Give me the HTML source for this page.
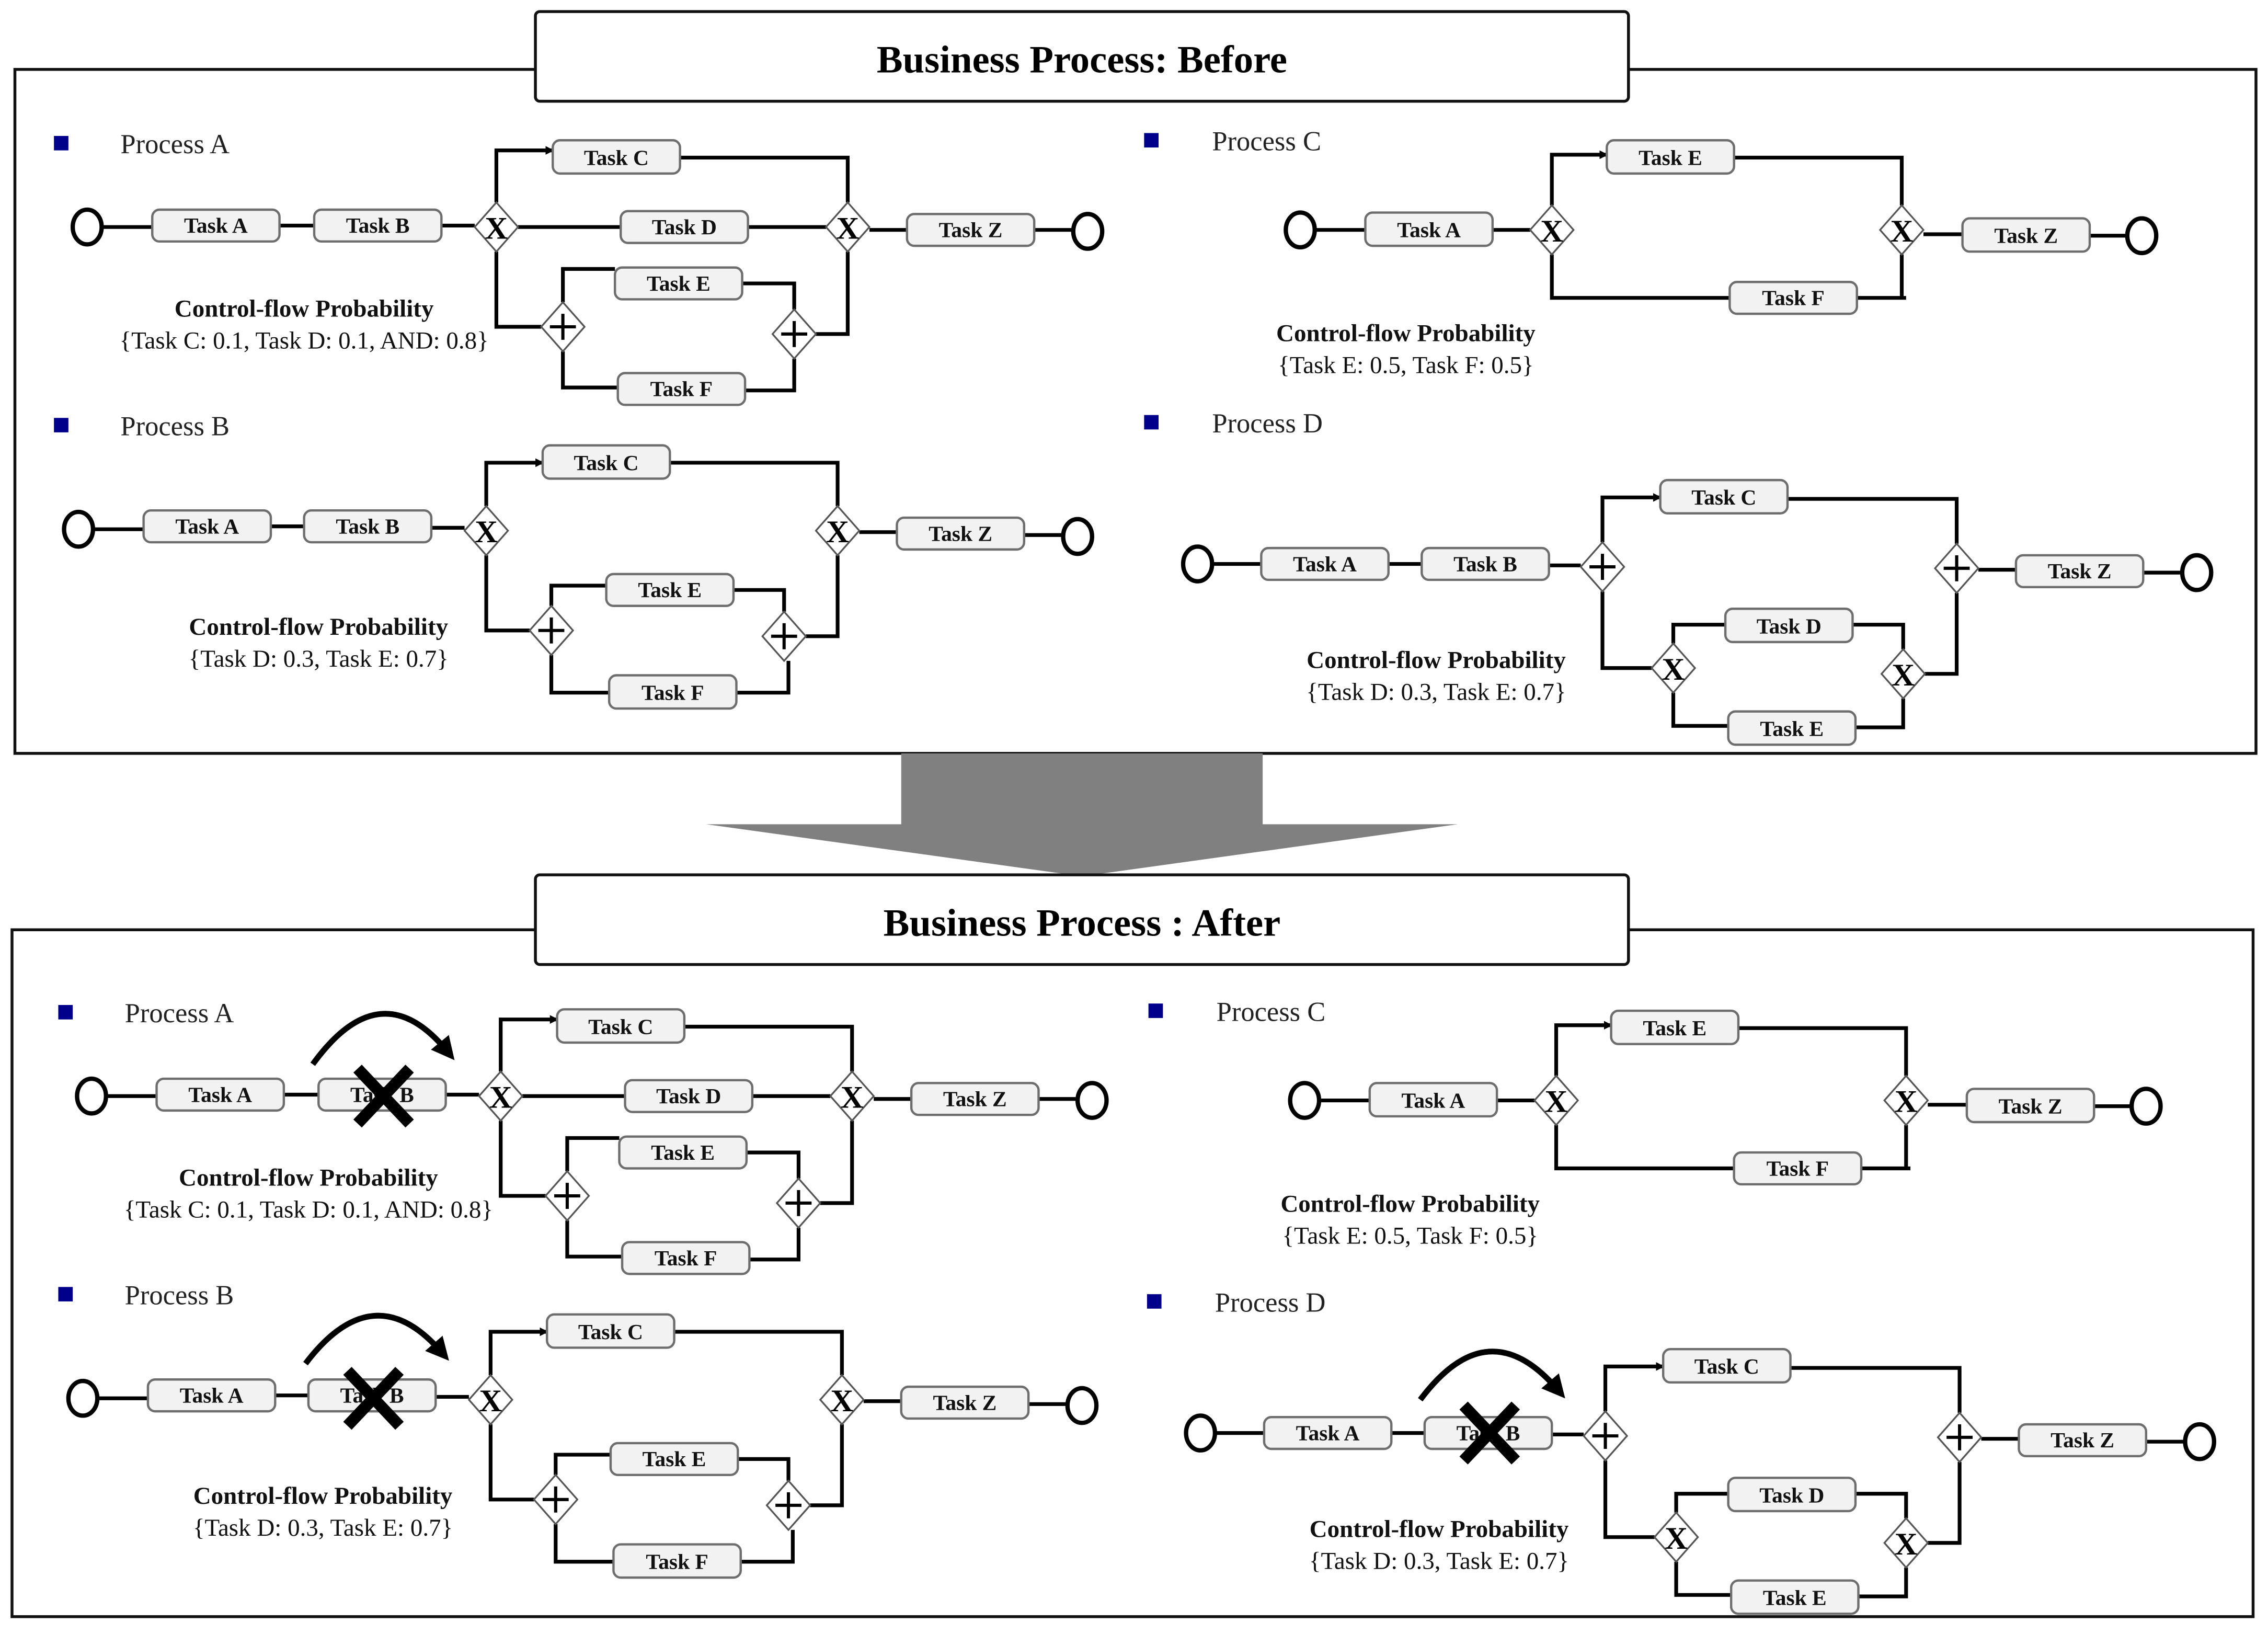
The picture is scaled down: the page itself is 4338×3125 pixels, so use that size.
<!DOCTYPE html>
<html><head><meta charset="utf-8">
<style>
html,body{margin:0;padding:0;background:#fff;}
svg{display:block;}
.t{fill:#f2f2f2;stroke:#6e6e6e;stroke-width:1.6;}
.tt{font-family:"Liberation Serif",serif;font-weight:bold;font-size:15px;text-anchor:middle;fill:#111;}
.ln{fill:none;stroke:#000;stroke-width:2.6;}
.gw{fill:#fff;stroke:#555;stroke-width:1.2;}
.gx{font-family:"Liberation Serif",serif;font-weight:bold;font-size:22px;text-anchor:middle;fill:#000;}
.pl{stroke:#000;stroke-width:2.2;}
.ev{fill:#fff;stroke:#000;stroke-width:3;}
.pn{font-family:"Liberation Serif",serif;font-size:19px;fill:#222;}
.cb{font-family:"Liberation Serif",serif;font-weight:bold;font-size:17px;text-anchor:middle;fill:#111;}
.cn{font-family:"Liberation Serif",serif;font-size:17px;text-anchor:middle;fill:#111;}
.bl{fill:#00008b;}
.ttl{font-family:"Liberation Serif",serif;font-weight:bold;font-size:27px;text-anchor:middle;fill:#000;}
</style></head><body>
<svg width="4338" height="3125" viewBox="0 0 1568 1130" xmlns="http://www.w3.org/2000/svg">
<defs>
<marker id="ar" markerWidth="6" markerHeight="6" refX="5" refY="3" orient="auto" markerUnits="userSpaceOnUse"><path d="M0,0 L6,3 L0,6 z" fill="#000"/></marker>
<marker id="big" markerWidth="16" markerHeight="16" refX="8" refY="8" orient="auto" markerUnits="userSpaceOnUse"><path d="M0,0 L16,8 L0,16 z" fill="#000"/></marker>
</defs>

<rect x="10" y="48" width="1550" height="473" fill="#fff" stroke="#111" stroke-width="2"/>
<rect x="8" y="643" width="1550" height="475" fill="#fff" stroke="#111" stroke-width="2"/>
<rect x="623" y="521" width="250" height="50" fill="#808080"/>
<polygon points="488,570 1008,570 748,606" fill="#808080"/>
<rect x="370" y="8" width="756" height="62" rx="3" fill="#fff" stroke="#111" stroke-width="2"/>
<text x="748" y="50" class="ttl">Business Process: Before</text>
<rect x="370" y="605" width="756" height="62" rx="3" fill="#fff" stroke="#111" stroke-width="2"/>
<text x="748" y="647" class="ttl">Business Process : After</text>

<!-- TOP A -->
<g>
<rect class="bl" x="37" y="94" width="10" height="10"/>
<text class="pn" x="83" y="106">Process A</text>
<path class="ln" d="M70,157 H105"/>
<path class="ln" d="M193,156 H217"/>
<path class="ln" d="M305,156 H328"/>
<path class="ln" d="M358,157 H429"/>
<path class="ln" d="M517,157 H571"/>
<path class="ln" d="M601,159 H627"/>
<path class="ln" d="M715,159 H742"/>
<path class="ln" d="M343,140 V104 H382" marker-end="url(#ar)"/>
<path class="ln" d="M470,109 H586 V140"/>
<path class="ln" d="M343,174 V226 H374"/>
<path class="ln" d="M389,209 V186 H425"/>
<path class="ln" d="M513,196 H549 V214"/>
<path class="ln" d="M389,243 V268 H427"/>
<path class="ln" d="M515,270 H549 V248"/>
<path class="ln" d="M564,231 H586 V174"/>
<ellipse class="ev" cx="60" cy="157" rx="10" ry="12"/>
<ellipse class="ev" cx="752" cy="160" rx="10" ry="12"/>
<rect class="t" x="105" y="145" width="88" height="22" rx="5"/><text class="tt" x="149" y="161">Task A</text>
<rect class="t" x="217" y="145" width="88" height="22" rx="5"/><text class="tt" x="261" y="161">Task B</text>
<rect class="t" x="382" y="97" width="88" height="23" rx="5"/><text class="tt" x="426" y="114">Task C</text>
<rect class="t" x="429" y="146" width="88" height="22" rx="5"/><text class="tt" x="473" y="162">Task D</text>
<rect class="t" x="425" y="185" width="88" height="22" rx="5"/><text class="tt" x="469" y="201">Task E</text>
<rect class="t" x="427" y="258" width="88" height="22" rx="5"/><text class="tt" x="471" y="274">Task F</text>
<rect class="t" x="627" y="148" width="88" height="22" rx="5"/><text class="tt" x="671" y="164">Task Z</text>
<polygon class="gw" points="343,140 358,157 343,174 328,157"/><text class="gx" x="343" y="165">X</text>
<polygon class="gw" points="586,140 601,157 586,174 571,157"/><text class="gx" x="586" y="165">X</text>
<polygon class="gw" points="389,209 404,226 389,243 374,226"/><path class="pl" d="M380,226 H398 M389,217 V235"/>
<polygon class="gw" points="549,214 564,231 549,248 534,231"/><path class="pl" d="M540,231 H558 M549,222 V240"/>
<text class="cb" x="210" y="219">Control-flow Probability</text>
<text class="cn" x="210" y="241">{Task C: 0.1, Task D: 0.1, AND: 0.8}</text>
</g>

<!-- TOP B -->
<g>
<rect class="bl" x="37" y="289" width="10" height="10"/>
<text class="pn" x="83" y="301">Process B</text>
<path class="ln" d="M64,366 H99"/>
<path class="ln" d="M187,364 H210"/>
<path class="ln" d="M298,365 H321"/>
<path class="ln" d="M594,368 H620"/>
<path class="ln" d="M708,370 H735"/>
<path class="ln" d="M336,350 V320 H375" marker-end="url(#ar)"/>
<path class="ln" d="M463,320 H579 V350"/>
<path class="ln" d="M336,384 V436 H366"/>
<path class="ln" d="M381,419 V405 H419"/>
<path class="ln" d="M507,408 H542 V423"/>
<path class="ln" d="M381,453 V479 H421"/>
<path class="ln" d="M509,479 H545 V457"/>
<path class="ln" d="M557,440 H579 V384"/>
<ellipse class="ev" cx="54" cy="366" rx="10" ry="12"/>
<ellipse class="ev" cx="745" cy="371" rx="10" ry="12"/>
<rect class="t" x="99" y="353" width="88" height="22" rx="5"/><text class="tt" x="143" y="369">Task A</text>
<rect class="t" x="210" y="353" width="88" height="22" rx="5"/><text class="tt" x="254" y="369">Task B</text>
<rect class="t" x="375" y="308" width="88" height="23" rx="5"/><text class="tt" x="419" y="325">Task C</text>
<rect class="t" x="419" y="397" width="88" height="22" rx="5"/><text class="tt" x="463" y="413">Task E</text>
<rect class="t" x="421" y="467" width="88" height="23" rx="5"/><text class="tt" x="465" y="484">Task F</text>
<rect class="t" x="620" y="358" width="88" height="22" rx="5"/><text class="tt" x="664" y="374">Task Z</text>
<polygon class="gw" points="336,350 351,367 336,384 321,367"/><text class="gx" x="336" y="375">X</text>
<polygon class="gw" points="579,350 594,367 579,384 564,367"/><text class="gx" x="579" y="375">X</text>
<polygon class="gw" points="381,419 396,436 381,453 366,436"/><path class="pl" d="M372,436 H390 M381,427 V445"/>
<polygon class="gw" points="542,423 557,440 542,457 527,440"/><path class="pl" d="M533,440 H551 M542,431 V449"/>
<text class="cb" x="220" y="439">Control-flow Probability</text>
<text class="cn" x="220" y="461">{Task D: 0.3, Task E: 0.7}</text>
</g>

<!-- TOP C -->
<g>
<rect class="bl" x="791" y="92" width="10" height="10"/>
<text class="pn" x="838" y="104">Process C</text>
<path class="ln" d="M909,159 H944"/>
<path class="ln" d="M1032,159 H1058"/>
<path class="ln" d="M1330,162 H1357"/>
<path class="ln" d="M1445,163 H1471"/>
<path class="ln" d="M1073,142 V107 H1111" marker-end="url(#ar)"/>
<path class="ln" d="M1199,109 H1315 V142"/>
<path class="ln" d="M1073,176 V206 H1196"/>
<path class="ln" d="M1284,206 H1318 M1315,206 V176"/>
<ellipse class="ev" cx="899" cy="159" rx="10" ry="12"/>
<ellipse class="ev" cx="1481" cy="163" rx="10" ry="12"/>
<rect class="t" x="944" y="147" width="88" height="23" rx="5"/><text class="tt" x="988" y="164">Task A</text>
<rect class="t" x="1111" y="97" width="88" height="23" rx="5"/><text class="tt" x="1155" y="114">Task E</text>
<rect class="t" x="1196" y="195" width="88" height="22" rx="5"/><text class="tt" x="1240" y="211">Task F</text>
<rect class="t" x="1357" y="151" width="88" height="23" rx="5"/><text class="tt" x="1401" y="168">Task Z</text>
<polygon class="gw" points="1073,142 1088,159 1073,176 1058,159"/><text class="gx" x="1073" y="167">X</text>
<polygon class="gw" points="1315,142 1330,159 1315,176 1300,159"/><text class="gx" x="1315" y="167">X</text>
<text class="cb" x="972" y="236">Control-flow Probability</text>
<text class="cn" x="972" y="258">{Task E: 0.5, Task F: 0.5}</text>
</g>

<!-- TOP D -->
<g>
<rect class="bl" x="791" y="287" width="10" height="10"/>
<text class="pn" x="838" y="299">Process D</text>
<path class="ln" d="M838,390 H872"/>
<path class="ln" d="M960,390 H983"/>
<path class="ln" d="M1071,391 H1093"/>
<path class="ln" d="M1368,394 H1394"/>
<path class="ln" d="M1482,396 H1509"/>
<path class="ln" d="M1108,375 V344 H1148" marker-end="url(#ar)"/>
<path class="ln" d="M1236,345 H1353 V376"/>
<path class="ln" d="M1108,409 V462 H1142"/>
<path class="ln" d="M1157,445 V432 H1193"/>
<path class="ln" d="M1281,432 H1316 V449"/>
<path class="ln" d="M1157,479 V502 H1195"/>
<path class="ln" d="M1283,503 H1316 V483"/>
<path class="ln" d="M1331,466 H1353 V410"/>
<ellipse class="ev" cx="828" cy="390" rx="10" ry="12"/>
<ellipse class="ev" cx="1519" cy="396" rx="10" ry="12"/>
<rect class="t" x="872" y="379" width="88" height="22" rx="5"/><text class="tt" x="916" y="395">Task A</text>
<rect class="t" x="983" y="379" width="88" height="22" rx="5"/><text class="tt" x="1027" y="395">Task B</text>
<rect class="t" x="1148" y="332" width="88" height="23" rx="5"/><text class="tt" x="1192" y="349">Task C</text>
<rect class="t" x="1193" y="421" width="88" height="23" rx="5"/><text class="tt" x="1237" y="438">Task D</text>
<rect class="t" x="1195" y="492" width="88" height="23" rx="5"/><text class="tt" x="1239" y="509">Task E</text>
<rect class="t" x="1394" y="384" width="88" height="22" rx="5"/><text class="tt" x="1438" y="400">Task Z</text>
<polygon class="gw" points="1108,375 1123,392 1108,409 1093,392"/><path class="pl" d="M1099,392 H1117 M1108,383 V401"/>
<polygon class="gw" points="1353,376 1368,393 1353,410 1338,393"/><path class="pl" d="M1344,393 H1362 M1353,384 V402"/>
<polygon class="gw" points="1157,445 1172,462 1157,479 1142,462"/><text class="gx" x="1157" y="470">X</text>
<polygon class="gw" points="1316,449 1331,466 1316,483 1301,466"/><text class="gx" x="1316" y="474">X</text>
<text class="cb" x="993" y="462">Control-flow Probability</text>
<text class="cn" x="993" y="484">{Task D: 0.3, Task E: 0.7}</text>
</g>

<!-- BOTTOM A -->
<g transform="translate(3,601)">
<rect class="bl" x="37" y="94" width="10" height="10"/>
<text class="pn" x="83" y="106">Process A</text>
<path class="ln" d="M70,157 H105"/>
<path class="ln" d="M193,156 H217"/>
<path class="ln" d="M305,156 H328"/>
<path class="ln" d="M358,157 H429"/>
<path class="ln" d="M517,157 H571"/>
<path class="ln" d="M601,159 H627"/>
<path class="ln" d="M715,159 H742"/>
<path class="ln" d="M343,140 V104 H382" marker-end="url(#ar)"/>
<path class="ln" d="M470,109 H586 V140"/>
<path class="ln" d="M343,174 V226 H374"/>
<path class="ln" d="M389,209 V186 H425"/>
<path class="ln" d="M513,196 H549 V214"/>
<path class="ln" d="M389,243 V268 H427"/>
<path class="ln" d="M515,270 H549 V248"/>
<path class="ln" d="M564,231 H586 V174"/>
<ellipse class="ev" cx="60" cy="157" rx="10" ry="12"/>
<ellipse class="ev" cx="752" cy="160" rx="10" ry="12"/>
<rect class="t" x="105" y="145" width="88" height="22" rx="5"/><text class="tt" x="149" y="161">Task A</text>
<rect class="t" x="217" y="145" width="88" height="22" rx="5"/><text class="tt" x="261" y="161">Task B</text>
<rect class="t" x="382" y="97" width="88" height="23" rx="5"/><text class="tt" x="426" y="114">Task C</text>
<rect class="t" x="429" y="146" width="88" height="22" rx="5"/><text class="tt" x="473" y="162">Task D</text>
<rect class="t" x="425" y="185" width="88" height="22" rx="5"/><text class="tt" x="469" y="201">Task E</text>
<rect class="t" x="427" y="258" width="88" height="22" rx="5"/><text class="tt" x="471" y="274">Task F</text>
<rect class="t" x="627" y="148" width="88" height="22" rx="5"/><text class="tt" x="671" y="164">Task Z</text>
<polygon class="gw" points="343,140 358,157 343,174 328,157"/><text class="gx" x="343" y="165">X</text>
<polygon class="gw" points="586,140 601,157 586,174 571,157"/><text class="gx" x="586" y="165">X</text>
<polygon class="gw" points="389,209 404,226 389,243 374,226"/><path class="pl" d="M380,226 H398 M389,217 V235"/>
<polygon class="gw" points="549,214 564,231 549,248 534,231"/><path class="pl" d="M540,231 H558 M549,222 V240"/>
<text class="cb" x="210" y="219">Control-flow Probability</text>
<text class="cn" x="210" y="241">{Task C: 0.1, Task D: 0.1, AND: 0.8}</text>
<path d="M213,135 Q260,70 306,126" fill="none" stroke="#000" stroke-width="4" marker-end="url(#big)"/>
<path d="M244,138 L280,176 M280,138 L244,176" stroke="#000" stroke-width="8"/>
</g>

<!-- BOTTOM B -->
<g transform="translate(3,601)">
<rect class="bl" x="37" y="289" width="10" height="10"/>
<text class="pn" x="83" y="301">Process B</text>
<path class="ln" d="M64,366 H99"/>
<path class="ln" d="M187,364 H210"/>
<path class="ln" d="M298,365 H321"/>
<path class="ln" d="M594,368 H620"/>
<path class="ln" d="M708,370 H735"/>
<path class="ln" d="M336,350 V320 H375" marker-end="url(#ar)"/>
<path class="ln" d="M463,320 H579 V350"/>
<path class="ln" d="M336,384 V436 H366"/>
<path class="ln" d="M381,419 V405 H419"/>
<path class="ln" d="M507,408 H542 V423"/>
<path class="ln" d="M381,453 V479 H421"/>
<path class="ln" d="M509,479 H545 V457"/>
<path class="ln" d="M557,440 H579 V384"/>
<ellipse class="ev" cx="54" cy="366" rx="10" ry="12"/>
<ellipse class="ev" cx="745" cy="371" rx="10" ry="12"/>
<rect class="t" x="99" y="353" width="88" height="22" rx="5"/><text class="tt" x="143" y="369">Task A</text>
<rect class="t" x="210" y="353" width="88" height="22" rx="5"/><text class="tt" x="254" y="369">Task B</text>
<rect class="t" x="375" y="308" width="88" height="23" rx="5"/><text class="tt" x="419" y="325">Task C</text>
<rect class="t" x="419" y="397" width="88" height="22" rx="5"/><text class="tt" x="463" y="413">Task E</text>
<rect class="t" x="421" y="467" width="88" height="23" rx="5"/><text class="tt" x="465" y="484">Task F</text>
<rect class="t" x="620" y="358" width="88" height="22" rx="5"/><text class="tt" x="664" y="374">Task Z</text>
<polygon class="gw" points="336,350 351,367 336,384 321,367"/><text class="gx" x="336" y="375">X</text>
<polygon class="gw" points="579,350 594,367 579,384 564,367"/><text class="gx" x="579" y="375">X</text>
<polygon class="gw" points="381,419 396,436 381,453 366,436"/><path class="pl" d="M372,436 H390 M381,427 V445"/>
<polygon class="gw" points="542,423 557,440 542,457 527,440"/><path class="pl" d="M533,440 H551 M542,431 V449"/>
<text class="cb" x="220" y="439">Control-flow Probability</text>
<text class="cn" x="220" y="461">{Task D: 0.3, Task E: 0.7}</text>
<path d="M208,342 Q255,280 302,334" fill="none" stroke="#000" stroke-width="4" marker-end="url(#big)"/>
<path d="M237,347 L273,385 M273,347 L237,385" stroke="#000" stroke-width="8"/>
</g>

<!-- BOTTOM C -->
<g transform="translate(3,602)">
<rect class="bl" x="791" y="92" width="10" height="10"/>
<text class="pn" x="838" y="104">Process C</text>
<path class="ln" d="M909,159 H944"/>
<path class="ln" d="M1032,159 H1058"/>
<path class="ln" d="M1330,162 H1357"/>
<path class="ln" d="M1445,163 H1471"/>
<path class="ln" d="M1073,142 V107 H1111" marker-end="url(#ar)"/>
<path class="ln" d="M1199,109 H1315 V142"/>
<path class="ln" d="M1073,176 V206 H1196"/>
<path class="ln" d="M1284,206 H1318 M1315,206 V176"/>
<ellipse class="ev" cx="899" cy="159" rx="10" ry="12"/>
<ellipse class="ev" cx="1481" cy="163" rx="10" ry="12"/>
<rect class="t" x="944" y="147" width="88" height="23" rx="5"/><text class="tt" x="988" y="164">Task A</text>
<rect class="t" x="1111" y="97" width="88" height="23" rx="5"/><text class="tt" x="1155" y="114">Task E</text>
<rect class="t" x="1196" y="195" width="88" height="22" rx="5"/><text class="tt" x="1240" y="211">Task F</text>
<rect class="t" x="1357" y="151" width="88" height="23" rx="5"/><text class="tt" x="1401" y="168">Task Z</text>
<polygon class="gw" points="1073,142 1088,159 1073,176 1058,159"/><text class="gx" x="1073" y="167">X</text>
<polygon class="gw" points="1315,142 1330,159 1315,176 1300,159"/><text class="gx" x="1315" y="167">X</text>
<text class="cb" x="972" y="236">Control-flow Probability</text>
<text class="cn" x="972" y="258">{Task E: 0.5, Task F: 0.5}</text>
</g>

<!-- BOTTOM D -->
<g transform="translate(2,601)">
<rect class="bl" x="791" y="294" width="10" height="10"/>
<text class="pn" x="838" y="306">Process D</text>
<path class="ln" d="M838,390 H872"/>
<path class="ln" d="M960,390 H983"/>
<path class="ln" d="M1071,391 H1093"/>
<path class="ln" d="M1368,394 H1394"/>
<path class="ln" d="M1482,396 H1509"/>
<path class="ln" d="M1108,375 V344 H1148" marker-end="url(#ar)"/>
<path class="ln" d="M1236,345 H1353 V376"/>
<path class="ln" d="M1108,409 V462 H1142"/>
<path class="ln" d="M1157,445 V432 H1193"/>
<path class="ln" d="M1281,432 H1316 V449"/>
<path class="ln" d="M1157,479 V502 H1195"/>
<path class="ln" d="M1283,503 H1316 V483"/>
<path class="ln" d="M1331,466 H1353 V410"/>
<ellipse class="ev" cx="828" cy="390" rx="10" ry="12"/>
<ellipse class="ev" cx="1519" cy="396" rx="10" ry="12"/>
<rect class="t" x="872" y="379" width="88" height="22" rx="5"/><text class="tt" x="916" y="395">Task A</text>
<rect class="t" x="983" y="379" width="88" height="22" rx="5"/><text class="tt" x="1027" y="395">Task B</text>
<rect class="t" x="1148" y="332" width="88" height="23" rx="5"/><text class="tt" x="1192" y="349">Task C</text>
<rect class="t" x="1193" y="421" width="88" height="23" rx="5"/><text class="tt" x="1237" y="438">Task D</text>
<rect class="t" x="1195" y="492" width="88" height="23" rx="5"/><text class="tt" x="1239" y="509">Task E</text>
<rect class="t" x="1394" y="384" width="88" height="22" rx="5"/><text class="tt" x="1438" y="400">Task Z</text>
<polygon class="gw" points="1108,375 1123,392 1108,409 1093,392"/><path class="pl" d="M1099,392 H1117 M1108,383 V401"/>
<polygon class="gw" points="1353,376 1368,393 1353,410 1338,393"/><path class="pl" d="M1344,393 H1362 M1353,384 V402"/>
<polygon class="gw" points="1157,445 1172,462 1157,479 1142,462"/><text class="gx" x="1157" y="470">X</text>
<polygon class="gw" points="1316,449 1331,466 1316,483 1301,466"/><text class="gx" x="1316" y="474">X</text>
<text class="cb" x="993" y="462">Control-flow Probability</text>
<text class="cn" x="993" y="484">{Task D: 0.3, Task E: 0.7}</text>
<path d="M980,367 Q1027,304 1075,360" fill="none" stroke="#000" stroke-width="4" marker-end="url(#big)"/>
<path d="M1010,371 L1046,409 M1046,371 L1010,409" stroke="#000" stroke-width="8"/>
</g>
</svg>
</body></html>
